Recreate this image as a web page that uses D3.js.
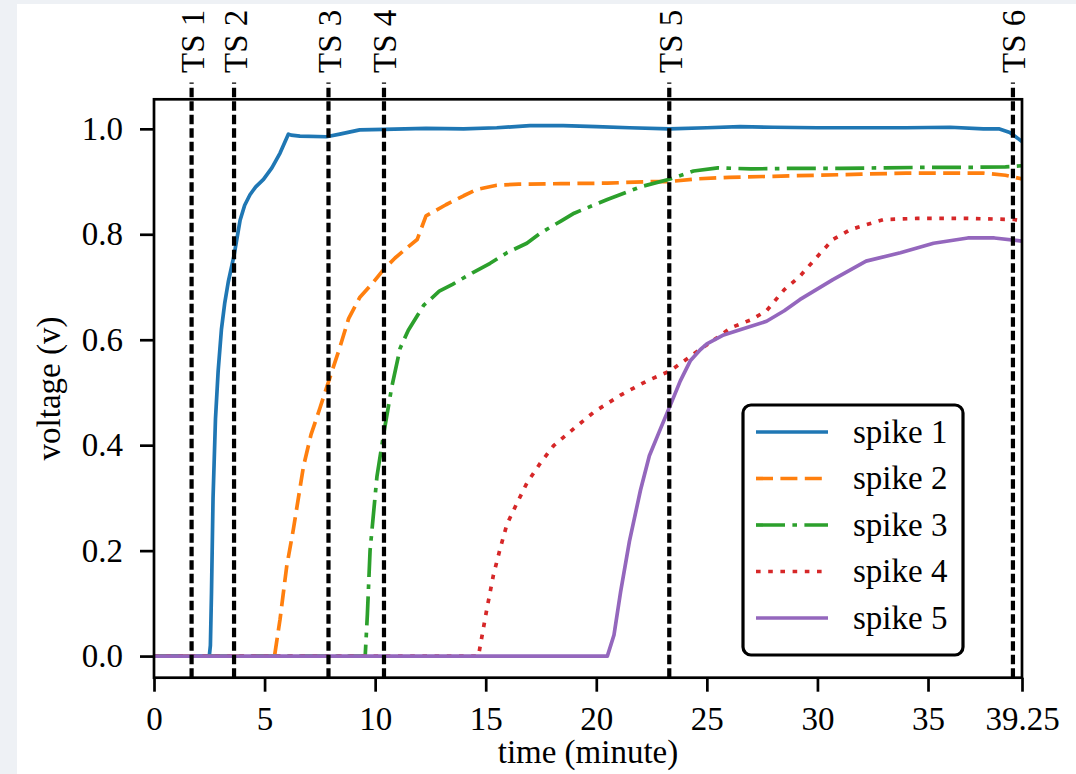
<!DOCTYPE html>
<html>
<head>
<meta charset="utf-8">
<script src="https://cdn.jsdelivr.net/npm/d3@7"></script>
<style>
  html, body { margin: 0; padding: 0; background: #eef1f5; }
  svg { display: block; }
  text { font-family: "Liberation Serif", "Times New Roman", serif; fill: #000; }
</style>
</head>
<body>
<svg id="chart" width="1076" height="774"></svg>
<script>
// ---- data ----
const xTickValues = [0, 5, 10, 15, 20, 25, 30, 35, 39.25];
const yTickValues = [0.0, 0.2, 0.4, 0.6, 0.8, 1.0];
const tsNames = ["TS 1", "TS 2", "TS 3", "TS 4", "TS 5", "TS 6"];
const tsTimes = [1.7, 3.62, 7.89, 10.4, 23.3, 38.84];
const seriesNames = ["spike 1", "spike 2", "spike 3", "spike 4", "spike 5"];
const seriesColors = ["#1f77b4", "#ff7f0e", "#2ca02c", "#d62728", "#9467bd"];

const spike1T = [0, 2.5, 2.55, 2.6, 2.67, 2.78, 2.9, 3.05, 3.2, 3.36, 3.62, 3.89, 4.1, 4.34, 4.6, 4.95, 5.33, 5.7, 6.08, 6.2, 6.6, 7.8, 8.4, 9.3, 10.4, 12.3, 14, 15.5, 17, 18.5, 20, 21.5, 23.3, 25, 26.5, 28, 30, 32, 34, 36, 37.5, 38.2, 38.7, 39.25];
const spike1V = [0, 0, 0.02, 0.12, 0.3, 0.45, 0.54, 0.62, 0.67, 0.71, 0.76, 0.826, 0.855, 0.875, 0.89, 0.904, 0.926, 0.954, 0.99, 0.988, 0.986, 0.985, 0.99, 0.998, 0.999, 1.001, 1.0, 1.002, 1.006, 1.006, 1.004, 1.002, 1.0, 1.002, 1.004, 1.003, 1.002, 1.002, 1.002, 1.003, 1.0, 1.0, 0.993, 0.976];

const spike2T = [0, 5.45, 5.7, 6.0, 6.3, 6.76, 7.1, 7.5, 7.89, 8.4, 8.8, 9.3, 9.92, 10.38, 10.9, 11.4, 11.9, 12.3, 13.2, 14.0, 14.6, 15.5, 16.5, 18.4, 20.5, 22.5, 23.3, 24.5, 26, 28, 30, 32, 34, 36, 37.5, 38.5, 39.25];
const spike2V = [0, 0, 0.07, 0.17, 0.24, 0.36, 0.42, 0.47, 0.52, 0.585, 0.64, 0.68, 0.709, 0.733, 0.755, 0.773, 0.79, 0.835, 0.856, 0.873, 0.885, 0.893, 0.895, 0.896, 0.897, 0.9, 0.9, 0.905, 0.908, 0.91, 0.912, 0.914, 0.916, 0.916, 0.916, 0.912, 0.905];

const spike3T = [0, 9.55, 9.65, 9.77, 10.08, 10.38, 10.75, 11.13, 11.5, 12.19, 12.9, 13.5, 14.4, 15.2, 15.96, 16.86, 17.5, 18.4, 19, 20.5, 22, 23.35, 24.4, 25.5, 27, 29, 31, 33, 35, 37, 38.5, 39.25];
const spike3V = [0, 0, 0.08, 0.2, 0.34, 0.42, 0.51, 0.584, 0.618, 0.665, 0.692, 0.705, 0.727, 0.745, 0.765, 0.783, 0.803, 0.825, 0.84, 0.866, 0.89, 0.905, 0.92, 0.926, 0.924, 0.925, 0.925, 0.926, 0.927, 0.927, 0.928, 0.93];

const spike4T = [0, 14.67, 15.05, 15.35, 15.66, 15.96, 16.4, 16.86, 17.47, 18.07, 18.97, 19.9, 21.1, 22.3, 23.35, 24.4, 25.3, 26.1, 27.0, 27.7, 28.5, 29.2, 30, 30.7, 31.5, 32.2, 33, 34.5, 36.8, 38.9, 39.25];
const spike4V = [0, 0, 0.089, 0.154, 0.205, 0.25, 0.289, 0.328, 0.366, 0.399, 0.431, 0.463, 0.495, 0.522, 0.541, 0.573, 0.599, 0.623, 0.638, 0.655, 0.695, 0.72, 0.758, 0.79, 0.809, 0.818, 0.828, 0.83, 0.83, 0.828, 0.825];

const spike5T = [0, 20.5, 20.8, 21.1, 21.5, 22.0, 22.4, 22.9, 23.35, 23.8, 24.25, 24.7, 25.0, 25.76, 26.5, 27.7, 28.5, 29.2, 30.7, 32.2, 33.75, 35.25, 36.8, 38, 39.25];
const spike5V = [0, 0, 0.04, 0.122, 0.218, 0.315, 0.38, 0.431, 0.476, 0.522, 0.56, 0.581, 0.592, 0.609, 0.619, 0.635, 0.655, 0.676, 0.714, 0.749, 0.765, 0.783, 0.793, 0.793, 0.787];

const seriesT = [spike1T, spike2T, spike3T, spike4T, spike5T];
const seriesV = [spike1V, spike2V, spike3V, spike4V, spike5V];
const seriesDash = ["none", "17,7.4", "29,7.4,4.6,7.4", "4.6,7.6", "none"];

// ---- layout ----
const svg = d3.select("#chart");
const pLeft = 154, pRight = 1022, pTop = 99.3, pBottom = 677.7;
const x = d3.scaleLinear().domain([0, 39.25]).range([pLeft, pRight]);
const y = d3.scaleLinear().domain([-0.041, 1.056]).range([pBottom, pTop]);
const FS = 33;
const LW = 3.7;

svg.append("rect").attr("x", 17).attr("y", 4).attr("width", 1059).attr("height", 770).attr("fill", "#ffffff");

svg.append("defs").append("clipPath").attr("id", "plotclip")
  .append("rect").attr("x", pLeft).attr("y", pTop).attr("width", pRight - pLeft).attr("height", pBottom - pTop);

const line = d3.line().x(d => x(d[0])).y(d => y(d[1]));
const plot = svg.append("g").attr("clip-path", "url(#plotclip)");
seriesNames.forEach((name, i) => {
  const pts = seriesT[i].map((t, j) => [t, seriesV[i][j]]);
  plot.append("path").datum(pts)
    .attr("d", line)
    .attr("fill", "none")
    .attr("stroke", seriesColors[i])
    .attr("stroke-width", LW)
    .attr("stroke-dasharray", seriesDash[i])
    .attr("stroke-linejoin", "round");
});

// vertical TS lines
const tsG = svg.append("g");
tsTimes.forEach((t, i) => {
  tsG.append("line")
    .attr("x1", x(t)).attr("x2", x(t))
    .attr("y1", pBottom).attr("y2", y(1.088))
    .attr("stroke", "#000").attr("stroke-width", 4.2)
    .attr("stroke-dasharray", "9.5,4");
  tsG.append("text")
    .attr("transform", `translate(${x(t) + 12.5},${73}) rotate(-90)`)
    .attr("font-size", FS)
    .attr("text-anchor", "start")
    .text(tsNames[i]);
});

// axes
const xAxis = d3.axisBottom(x).tickValues(xTickValues)
  .tickFormat(d => (d === 39.25 ? "39.25" : d3.format("d")(d)))
  .tickSize(14).tickPadding(14.5).tickSizeOuter(0);
const gx = svg.append("g").attr("transform", `translate(0,${pBottom})`).call(xAxis);
gx.select(".domain").remove();
gx.selectAll(".tick line").attr("stroke", "#000").attr("stroke-width", 2.7);
gx.selectAll(".tick text").attr("font-size", FS).attr("font-family", "Liberation Serif").attr("fill", "#000");

const yAxis = d3.axisLeft(y).tickValues(yTickValues)
  .tickFormat(d3.format(".1f"))
  .tickSize(14).tickPadding(17).tickSizeOuter(0);
const gy = svg.append("g").attr("transform", `translate(${pLeft},0)`).call(yAxis);
gy.select(".domain").remove();
gy.selectAll(".tick line").attr("stroke", "#000").attr("stroke-width", 2.7);
gy.selectAll(".tick text").attr("font-size", FS).attr("font-family", "Liberation Serif").attr("fill", "#000");

// frame
svg.append("rect").attr("x", pLeft).attr("y", pTop).attr("width", pRight - pLeft).attr("height", pBottom - pTop)
  .attr("fill", "none").attr("stroke", "#000").attr("stroke-width", 2.7);

// axis labels
svg.append("text").attr("x", (pLeft + pRight) / 2).attr("y", 763)
  .attr("text-anchor", "middle").attr("font-size", FS).text("time (minute)");
svg.append("text").attr("transform", `translate(60,${(pTop + pBottom) / 2}) rotate(-90)`)
  .attr("text-anchor", "middle").attr("font-size", FS).text("voltage (v)");

// legend
const lg = svg.append("g");
lg.append("rect").attr("x", 743).attr("y", 405).attr("width", 220).attr("height", 250)
  .attr("rx", 8).attr("ry", 8)
  .attr("fill", "#fff").attr("stroke", "#000").attr("stroke-width", 3.2);
seriesNames.forEach((name, i) => {
  const ly = 432 + i * 46.5;
  lg.append("line").attr("x1", 756).attr("x2", 828).attr("y1", ly).attr("y2", ly)
    .attr("stroke", seriesColors[i]).attr("stroke-width", LW)
    .attr("stroke-dasharray", seriesDash[i]);
  lg.append("text").attr("x", 853).attr("y", ly).attr("dy", "0.33em")
    .attr("font-size", FS).text(name);
});
</script>
</body>
</html>
